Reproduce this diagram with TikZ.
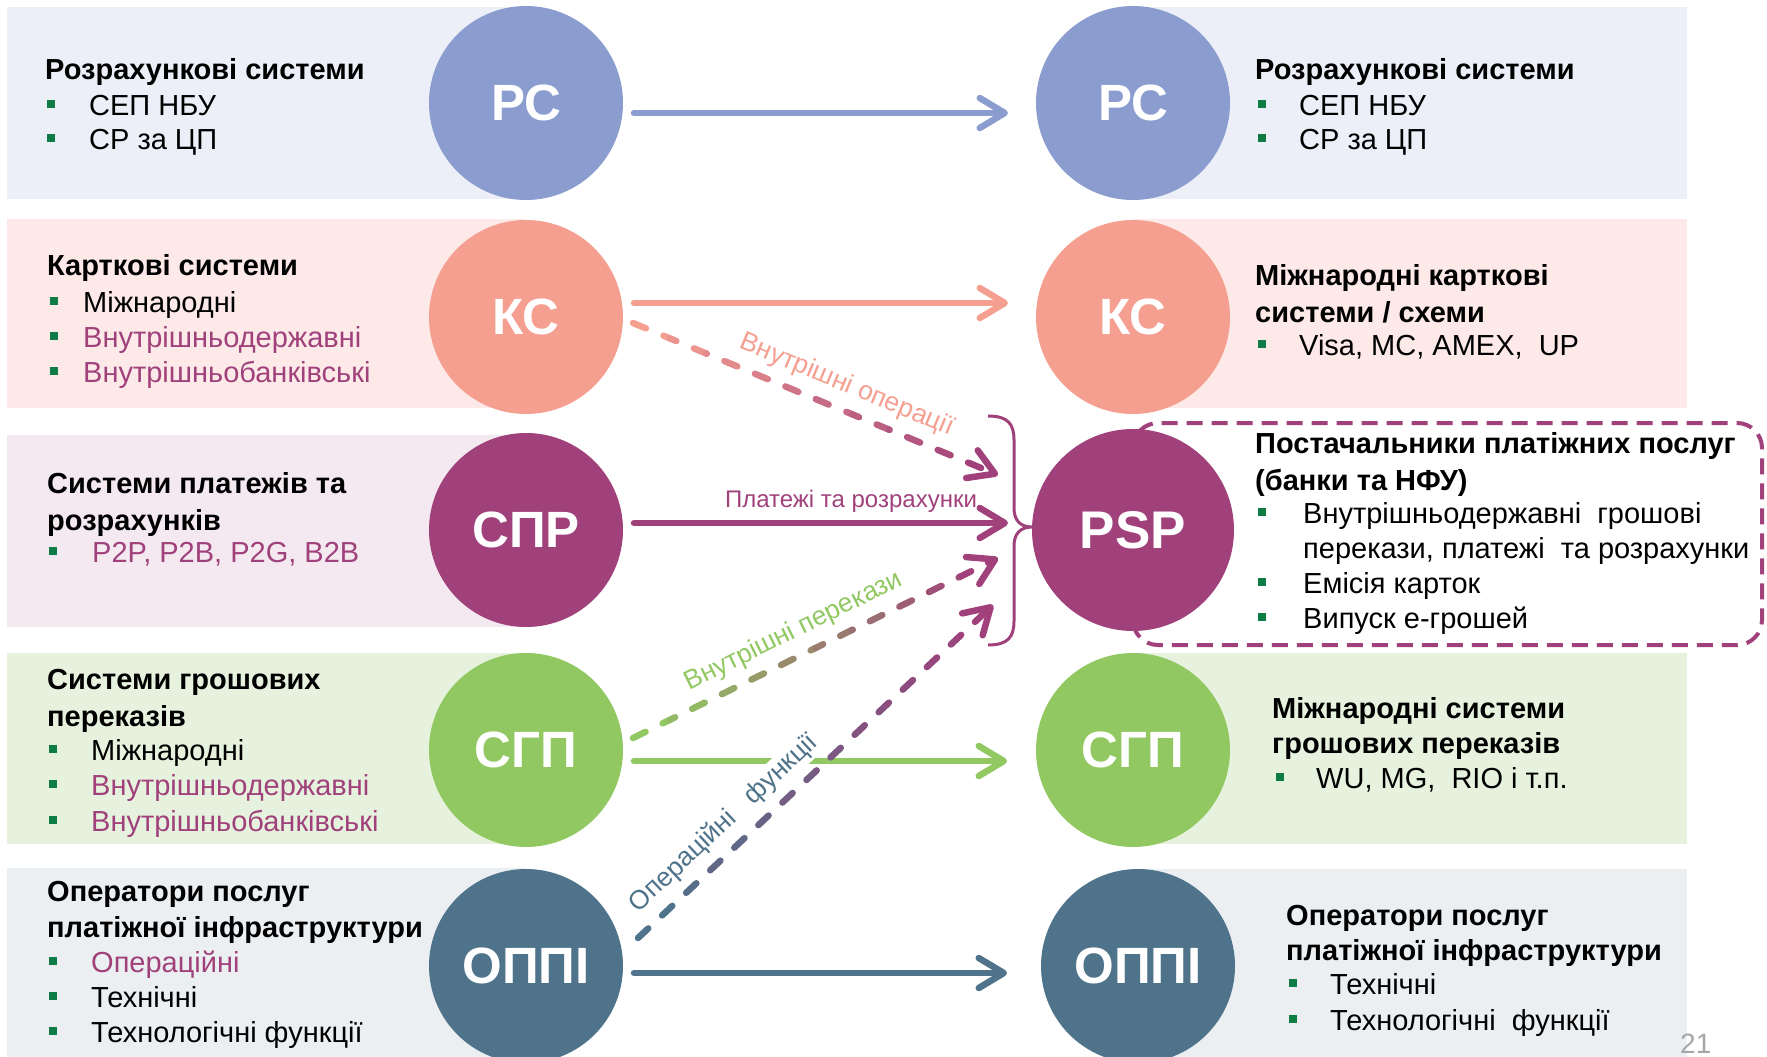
\documentclass[tikz,border=0pt]{standalone}
\usepackage{fontspec}
\setmainfont{Liberation Sans}
\usetikzlibrary{arrows.meta,calc}
\definecolor{cRS}{RGB}{139,157,207}
\definecolor{cKS}{RGB}{245,159,145}
\definecolor{cSPR}{RGB}{160,65,123}
\definecolor{cSGP}{RGB}{146,200,98}
\definecolor{cOP}{RGB}{79,115,138}
\definecolor{bRS}{RGB}{236,239,247}
\definecolor{bKS}{RGB}{252,233,232}
\definecolor{bSPR}{RGB}{244,233,240}
\definecolor{bSGP}{RGB}{230,242,222}
\definecolor{bOP}{RGB}{236,239,242}
\definecolor{bulg}{RGB}{14,125,69}
\definecolor{pnum}{RGB}{166,166,166}
\tikzset{
 circ/.style={circle, minimum size=194pt, inner sep=0pt, text=white, font=\fontsize{51}{51}\selectfont\bfseries},
 ttlst/.style={anchor=base west, inner sep=0pt, font=\fontsize{29}{35}\selectfont\bfseries},
 txtst/.style={anchor=base west, inner sep=0pt, font=\fontsize{29}{35}\selectfont},
 bul/.style={fill=bulg, minimum size=8pt, inner sep=0pt},
 tipst/.style={-{Straight Barb[length=25pt,width=30pt,round]}},
 conn/.style={line width=6.5pt, line cap=round, tipst},
 dsh/.style={line width=6.5pt, line cap=round, dash pattern=on 14pt off 19pt},
 lbl/.style={font=\fontsize{24}{24}\selectfont, inner sep=0pt},
 slbl/.style={font=\fontsize{26.5}{26.5}\selectfont, inner sep=0pt, sloped}
}
\newcommand\ttl[4]{\node[ttlst] (#1) at (#2,#3) {#4};}
\newcommand\itm[6]{\node[bul] (#1b) at ({#2+4},{#4-11}) {};\node[txtst,text=#5] (#1) at (#3,#4) {#6};}
\newcommand\gradconn[4]{%
 \path let \p1=($(#2)-(#1)$), \n1={veclen(\x1,\y1)} in \pgfextra{\xdef\glen{\n1}};
 \foreach \i in {0,...,9}{%
   \pgfmathsetmacro\pct{100-\i*100/9}%
   \pgfmathsetmacro\ph{\glen*\i/10}%
   \ifnum\i=9
     \draw[dsh, #3!\pct!#4, dash phase=\ph pt, tipst] ($(#1)!\i/10!(#2)$) -- (#2);
   \else
     \draw[dsh, #3!\pct!#4, dash phase=\ph pt] ($(#1)!\i/10!(#2)$) -- ($(#1)!{(\i+1)/10}!(#2)$);
   \fi
 }}
\begin{document}
\begin{tikzpicture}[x=1pt,y=-1pt]
\useasboundingbox (0,0) rectangle (1767,1057);
% bands
\fill[bRS] (7,7) rectangle (526,199);
\fill[bKS] (7,219) rectangle (526,408);
\fill[bSPR] (7,435) rectangle (526,627);
\fill[bSGP] (7,653) rectangle (526,844);
\fill[bOP] (7,868) rectangle (526,1060);
\fill[bRS] (1133,7) rectangle (1687,199);
\fill[bKS] (1133,219) rectangle (1687,408);
\fill[bSGP] (1133,653) rectangle (1687,844);
\fill[bOP] (1133,869) rectangle (1687,1060);
% PSP dashed box
\draw[cSPR, line width=4pt, dash pattern=on 16pt off 9pt, rounded corners=25pt] (1133,423) rectangle (1762,645);
% circles
\node[circ, fill=cRS] (rsL) at (526,103) {РС};
\node[circ, fill=cKS] (ksL) at (526,317) {КС};
\node[circ, fill=cSPR] (sprL) at (526,530) {СПР};
\node[circ, fill=cSGP] (sgpL) at (526,750) {СГП};
\node[circ, fill=cOP] (opL) at (526,966) {ОППІ};
\node[circ, fill=cRS] (rsR) at (1133,103) {РС};
\node[circ, fill=cKS] (ksR) at (1133,317) {КС};
\node[circ, fill=cSPR, minimum size=202pt, font=\fontsize{53}{53}\selectfont\bfseries] (psp) at (1133,530) {PSP};
\node[circ, fill=cSGP] (sgpR) at (1133,750) {СГП};
\node[circ, fill=cOP] (opR) at (1138,966) {ОППІ};
% left texts
\ttl{l1t}{45}{79}{Розрахункові системи}
\itm{l1a}{47}{89}{115}{black}{СЕП НБУ}
\itm{l1b}{47}{89}{149}{black}{СР за ЦП}
\ttl{l2t}{47}{275}{Карткові системи}
\itm{l2a}{50}{83}{312}{black}{Міжнародні}
\itm{l2b}{50}{83}{347}{cSPR}{Внутрішньодержавні}
\itm{l2c}{50}{83}{382}{cSPR}{Внутрішньобанківські}
\ttl{l3t}{47}{493}{Системи платежів та}
\ttl{l3u}{47}{530}{розрахунків}
\itm{l3a}{49}{92}{562}{cSPR}{P2P, P2B, P2G, B2B}
\ttl{l4t}{47}{689}{Системи грошових}
\ttl{l4u}{47}{726}{переказів}
\itm{l4a}{49}{91}{760}{black}{Міжнародні}
\itm{l4b}{49}{91}{795}{cSPR}{Внутрішньодержавні}
\itm{l4c}{49}{91}{831}{cSPR}{Внутрішньобанківські}
\ttl{l5t}{47}{901}{Оператори послуг}
\ttl{l5u}{47}{937}{платіжної інфраструктури}
\itm{l5a}{49}{91}{972}{cSPR}{Операційні}
\itm{l5b}{49}{91}{1007}{black}{Технічні}
\itm{l5c}{49}{91}{1042}{black}{Технологічні функції}
% right texts
\ttl{r1t}{1255}{79}{Розрахункові системи}
\itm{r1a}{1258}{1299}{115}{black}{СЕП НБУ}
\itm{r1b}{1258}{1299}{149}{black}{СР за ЦП}
\ttl{r2t}{1255}{285}{Міжнародні карткові}
\ttl{r2u}{1255}{322}{системи / схеми}
\itm{r2a}{1258}{1299}{355}{black}{Visa, MC, AMEX,\ \ UP}
\ttl{r3t}{1255}{453}{Постачальники платіжних послуг}
\ttl{r3u}{1255}{490}{(банки та НФУ)}
\itm{r3a}{1258}{1303}{523}{black}{Внутрішньодержавні\ \ грошові}
\node[txtst] (r3a2) at (1303,558) {перекази, платежі\ \ та розрахунки};
\itm{r3b}{1258}{1303}{593}{black}{Емісія карток}
\itm{r3c}{1258}{1303}{628}{black}{Випуск е-грошей}
\ttl{r4t}{1272}{718}{Міжнародні системи}
\ttl{r4u}{1272}{753}{грошових переказів}
\itm{r4a}{1276}{1316}{788}{black}{WU, MG,\ \ RIO і т.п.}
\ttl{r5t}{1286}{925}{Оператори послуг}
\ttl{r5u}{1286}{960}{платіжної інфраструктури}
\itm{r5a}{1289}{1330}{994}{black}{Технічні}
\itm{r5b}{1289}{1330}{1030}{black}{Технологічні\ \ функції}
\node[anchor=base west, inner sep=0pt, text=pnum, font=\fontsize{28}{28}\selectfont] (pg) at (1680,1053) {21};
% connector end points
\coordinate (rsS) at (634,113);   \coordinate (rsT) at (1008,113);
\coordinate (ksS) at (634,303);   \coordinate (ksT) at (1008,303);
\coordinate (sprS) at (634,523);  \coordinate (sprT) at (1008,523);
\coordinate (sgpS) at (634,761);  \coordinate (sgpT) at (1007,761);
\coordinate (opS) at (634,973);   \coordinate (opT) at (1007,973);
\coordinate (ksD) at (633,323);   \coordinate (ksE) at (998,475);
\coordinate (sgpD) at (633,738);  \coordinate (sgpE) at (998,558);
\coordinate (opD) at (638,938);   \coordinate (opE) at (993,605);
% solid arrows
\draw[conn, cRS] (rsS) -- (rsT);
\draw[conn, cKS] (ksS) -- (ksT);
\draw[conn, cSPR] (sprS) -- (sprT);
\draw[conn, cSGP] (sgpS) -- (sgpT);
\draw[conn, cOP] (opS) -- (opT);
% labels
\node[lbl, text=cSPR, anchor=base] (lspr) at (851,507) {Платежі та розрахунки};
\path (ksD) -- (ksE) node[slbl, pos=0.56, above=12pt, text=cKS] (lks) {Внутрішні операції};
\path (sgpD) -- (sgpE) node[slbl, pos=0.47, above=12pt, text=cSGP] (lsgp) {Внутрішні перекази};
\path (opD) -- (opE) node[slbl, pos=0.29, above=10pt, text=cOP, fill=white, inner sep=2pt] (lop) {Операційні~~~функції};
% dashed gradient arrows
\gradconn{ksD}{ksE}{cKS}{cSPR}
\gradconn{sgpD}{sgpE}{cSGP}{cSPR}
\gradconn{opD}{opE}{cOP}{cSPR}
% brace
\draw[cSPR, line width=3pt] (988,416) .. controls (1008,416) and (1014,424) .. (1014,440) -- (1014,508)
  .. controls (1014,520) and (1020,527) .. (1032,527)
  .. controls (1020,527) and (1014,534) .. (1014,546) -- (1014,621)
  .. controls (1014,637) and (1008,645) .. (988,645);
\end{tikzpicture}
\end{document}
